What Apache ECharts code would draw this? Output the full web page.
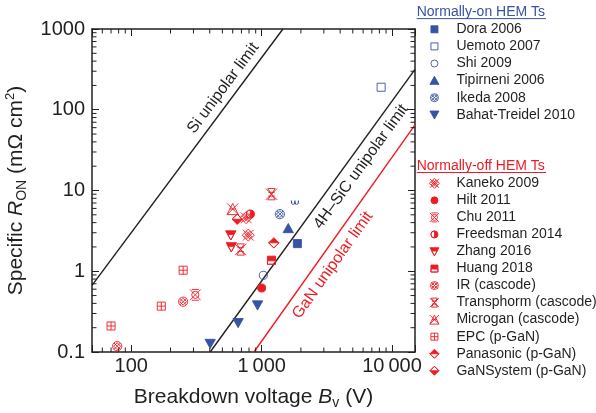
<!DOCTYPE html>
<html>
<head>
<meta charset="utf-8">
<script src="https://cdn.jsdelivr.net/npm/echarts@6/dist/echarts.min.js"></script>
<style>
  html, body { margin: 0; padding: 0; background: #fff; }
  #main { width: 596px; height: 413px; }
</style>
</head>
<body>
<div id="main"></div>
<script>
const FONT = '"Liberation Sans", Arial, Helvetica, sans-serif';
const RED = '#ed1c24';
const BLUE = '#3853a4';
const INK = '#231f20';

// axes
const xMin = 50, xMax = 15000;
const yMin = 0.1, yMax = 1000;
const xTickValues = [100, 1000, 10000];
const xTickLabels = ['100', '1\u2009000', '10\u2009000'];
const yTickValues = [0.1, 1, 10, 100, 1000];
const yTickLabels = ['0.1', '1', '10', '100', '1000'];
const xMinorTicks = [60, 70, 80, 90, 200, 300, 400, 500, 600, 700, 800, 900,
  2000, 3000, 4000, 5000, 6000, 7000, 8000, 9000];
const yMinorTicks = [0.2, 0.3, 0.4, 0.5, 0.6, 0.7, 0.8, 0.9, 2, 3, 4, 5, 6, 7, 8, 9,
  20, 30, 40, 50, 60, 70, 80, 90, 200, 300, 400, 500, 600, 700, 800, 900];

// unipolar limits [Bv, Ron]
const siLimit = [[50, 0.67], [1456, 1000]];
const sicLimit = [[403, 0.1], [15000, 316]];
const ganLimit = [[873, 0.1], [15000, 65]];

// normally-on HEMTs [Bv (V), Ron (mOhm cm2)]
const dora = [[1880, 2.2]];
const uemoto = [[8250, 190]];
const shi = [[1030, 0.89]];
const tipirneni = [[1600, 3.4]];
const ikeda = [[1380, 5.1]];
const ikedaPartial = [[1800, 7.1]];
const bahat = [[403, 0.127], [660, 0.23], [930, 0.38]];

// normally-off HEMTs
const kaneko = [[790, 2.8], [760, 4.6]];
const hilt = [[1000, 0.62]];
const chu = [[310, 0.51]];
const freedsman = [[820, 5.1]];
const zhang = [[580, 2.8], [585, 2.0]];
const huang = [[1190, 1.37]];
const ir = [[250, 0.42], [78, 0.118]];
const transphorm = [[1190, 9.0], [690, 1.86]];
const microgan = [[600, 5.9]];
const epc = [[250, 1.03], [170, 0.37], [70, 0.21]];
const panasonic = [[1240, 2.25]];
const gansystem = [[650, 4.4]];

// symbols, 20x20 box (the leading moves keep the box size)
const BOX = 'M0 0M20 20';
const SYM = {
  square: 'path://' + BOX + 'M3 3L17 3L17 17L3 17Z',
  openSquare: 'path://' + BOX + 'M3 3L17 3L17 17L3 17Z',
  circle: 'path://' + BOX + 'M3 10A7 7 0 1 1 17 10A7 7 0 1 1 3 10Z',
  triUp: 'path://' + BOX + 'M10 1.5L19 17.5L1 17.5Z',
  triDown: 'path://' + BOX + 'M1 2.5L19 2.5L10 18.5Z',
  hatchCircle: 'path://' + BOX + 'M2 10A8 8 0 1 1 18 10A8 8 0 1 1 2 10ZM4.3 4.3L15.7 15.7M15.7 4.3L4.3 15.7M10 4L16 10L10 16L4 10Z',
  omega: 'path://M0 0A5 5 0 0 0 10 0A5 5 0 0 0 20 0A5 5 0 0 1 10 0A5 5 0 0 1 0 0Z',
  kaneko: 'path://' + BOX + 'M10 0L20 10L10 20L0 10ZM3.3 6.7L13.3 16.7M6.7 3.3L16.7 13.3M13.3 3.3L3.3 13.3M16.7 6.7L6.7 16.7M1 1L19 19M19 1L1 19',
  chu: 'path://' + BOX + 'M1 1L19 19M19 1L1 19M4 10A6 6 0 1 1 16 10A6 6 0 1 1 4 10ZM4 1L16 1M4 19L16 19',
  transphorm: 'path://' + BOX + 'M1 1L19 19M19 1L1 19M4 1L16 1L4 19L16 19ZM5 7L15 7M5 13L15 13',
  microgan: 'path://' + BOX + 'M1 1L19 19M19 1L1 19M10 1L19 19L1 19ZM5 10L15 10',
  epc: 'path://' + BOX + 'M3 3L17 3L17 17L3 17ZM10 3L10 17M3 10L17 10',
  halfCircle: 'path://' + BOX + 'M10 3A7 7 0 0 1 10 17ZM10 3A7 7 0 0 0 10 17A7 7 0 0 1 10 3Z',
  zhang: 'path://' + BOX + 'M1 2.5L19 2.5L15.4 9L4.6 9ZM4.6 9L10 18.5L15.4 9L10 18.5Z',
  huang: 'path://' + BOX + 'M3 3L17 3L17 11L3 11ZM3 11L3 17L17 17L17 11L17 17L3 17Z',
  panasonic: 'path://' + BOX + 'M10 1L19 10L1 10ZM1 10L10 19L19 10L10 19Z',
  gansystem: 'path://' + BOX + 'M1 10L19 10L10 19ZM1 10L10 1L19 10L10 1Z'
};

const CLEAR = 'rgba(0,0,0,0)';

function styleOf(color, filled) {
  return { color: filled ? color : CLEAR, borderColor: color, borderWidth: 0.9, opacity: 1 };
}

function pts(name, data, symbol, color, filled, size) {
  return {
    name: name,
    type: 'scatter',
    data: data,
    symbol: symbol,
    symbolSize: size || 11.5,
    itemStyle: styleOf(color, filled),
    z: 5
  };
}

function limit(data, color) {
  return {
    type: 'line',
    data: data,
    showSymbol: false,
    symbol: 'none',
    lineStyle: { color: color, width: 1.4 },
    silent: true,
    z: 3
  };
}

function labelFor(values, labels) {
  return function (v) {
    for (let i = 0; i < values.length; i++) {
      if (Math.abs(Math.log10(v) - Math.log10(values[i])) < 1e-6) return labels[i];
    }
    return '';
  };
}

const chart = echarts.init(document.getElementById('main'));

const frameLine = { lineStyle: { color: INK, width: 1.5 } };
const majorTick = { inside: true, length: 7, lineStyle: { color: INK, width: 1 } };

const onSeries = [
  pts('Dora 2006', dora, SYM.square, BLUE, true),
  pts('Uemoto 2007', uemoto, SYM.openSquare, BLUE, false),
  pts('Shi 2009', shi, SYM.circle, BLUE, false),
  pts('Tipirneni 2006', tipirneni, SYM.triUp, BLUE, true),
  pts('Ikeda 2008', ikeda, SYM.hatchCircle, BLUE, false),
  pts('Bahat-Treidel 2010', bahat, SYM.triDown, BLUE, true)
];
const offSeries = [
  pts('Kaneko 2009', kaneko, SYM.kaneko, RED, false, 12),
  pts('Hilt 2011', hilt, SYM.circle, RED, true),
  pts('Chu 2011', chu, SYM.chu, RED, false, 12),
  pts('Freedsman 2014', freedsman, SYM.halfCircle, RED, true),
  pts('Zhang 2016', zhang, SYM.zhang, RED, true),
  pts('Huang 2018', huang, SYM.huang, RED, true),
  pts('IR (cascode)', ir, SYM.hatchCircle, RED, false),
  pts('Transphorm (cascode)', transphorm, SYM.transphorm, RED, false, 12.5),
  pts('Microgan (cascode)', microgan, SYM.microgan, RED, false, 12.5),
  pts('EPC (p-GaN)', epc, SYM.epc, RED, false),
  pts('Panasonic (p-GaN)', panasonic, SYM.panasonic, RED, true),
  pts('GaNSystem (p-GaN)', gansystem, SYM.gansystem, RED, true)
];

function legendOf(list, top, rowH) {
  return {
    orient: 'vertical',
    left: 429,
    top: top,
    padding: 0,
    itemGap: 0,
    itemWidth: 10,
    itemHeight: 10,
    selectedMode: false,
    data: list.map(s => ({ name: s.name, icon: s.symbol, itemStyle: s.itemStyle })),
    formatter: name => '{g|}' + name,
    textStyle: {
      fontFamily: FONT, fontSize: 14, color: INK, lineHeight: rowH,
      rich: { g: { width: 12, lineHeight: rowH } }
    }
  };
}

const option = {
  animation: false,
  backgroundColor: '#fff',
  grid: { left: 92, right: 181, top: 29, bottom: 61, outerBoundsMode: 'none', containLabel: false },
  legend: [legendOf(onSeries, 20.75, 17.1), legendOf(offSeries, 174.8, 17.04)],
  xAxis: [{
    type: 'log', logBase: 10, min: xMin, max: xMax, position: 'bottom',
    axisLine: frameLine, axisTick: majorTick, splitLine: { show: false },
    axisLabel: { formatter: labelFor(xTickValues, xTickLabels), fontFamily: FONT, fontSize: 20, color: INK, margin: 4 },
    name: 'Breakdown voltage {i|B}{sub|v} (V)',
    nameLocation: 'middle', nameGap: 32,
    nameTextStyle: {
      fontFamily: FONT, fontSize: 21, color: INK, lineHeight: 26,
      rich: {
        i: { fontFamily: FONT, fontSize: 21, fontStyle: 'italic', color: INK, lineHeight: 26 },
        sub: { fontFamily: FONT, fontSize: 14, color: INK, verticalAlign: 'bottom', lineHeight: 14 }
      }
    }
  }, {
    type: 'log', logBase: 10, min: xMin, max: xMax, position: 'top',
    axisLine: frameLine, axisTick: majorTick, axisLabel: { show: false }, splitLine: { show: false }
  }],
  yAxis: [{
    type: 'log', logBase: 10, min: yMin, max: yMax, position: 'left',
    axisLine: frameLine, axisTick: majorTick, splitLine: { show: false },
    axisLabel: { formatter: labelFor(yTickValues, yTickLabels), fontFamily: FONT, fontSize: 20, color: INK, margin: 7 },
    name: 'Specific {i|R}{sub|ON} (m\u03a9 cm{sup|2})',
    nameLocation: 'middle', nameGap: 59,
    nameTextStyle: {
      fontFamily: FONT, fontSize: 21, color: INK, lineHeight: 26,
      rich: {
        i: { fontFamily: FONT, fontSize: 21, fontStyle: 'italic', color: INK, lineHeight: 26 },
        sub: { fontFamily: FONT, fontSize: 14, color: INK, verticalAlign: 'bottom', lineHeight: 14 },
        sup: { fontFamily: FONT, fontSize: 13, color: INK, verticalAlign: 'top', lineHeight: 13 }
      }
    }
  }, {
    type: 'log', logBase: 10, min: yMin, max: yMax, position: 'right',
    axisLine: frameLine, axisTick: majorTick, axisLabel: { show: false }, splitLine: { show: false }
  }],
  series: [
    limit(siLimit, INK),
    limit(sicLimit, INK),
    limit(ganLimit, RED),
    {
      type: 'custom', silent: true, clip: false, z: 4,
      data: xMinorTicks.map(v => [v, yMin]),
      renderItem: function (params, api) {
        const b = api.coord([api.value(0), yMin]);
        const t = api.coord([api.value(0), yMax]);
        const st = { stroke: INK, lineWidth: 1 };
        return { type: 'group', children: [
          { type: 'line', shape: { x1: b[0], y1: b[1], x2: b[0], y2: b[1] - 4.5 }, style: st },
          { type: 'line', shape: { x1: t[0], y1: t[1], x2: t[0], y2: t[1] + 4.5 }, style: st }
        ] };
      }
    },
    {
      type: 'custom', silent: true, clip: false, z: 4,
      data: yMinorTicks.map(v => [xMin, v]),
      renderItem: function (params, api) {
        const l = api.coord([xMin, api.value(1)]);
        const r = api.coord([xMax, api.value(1)]);
        const st = { stroke: INK, lineWidth: 1 };
        return { type: 'group', children: [
          { type: 'line', shape: { x1: l[0], y1: l[1], x2: l[0] + 4.5, y2: l[1] }, style: st },
          { type: 'line', shape: { x1: r[0], y1: r[1], x2: r[0] - 4.5, y2: r[1] }, style: st }
        ] };
      }
    },
    Object.assign(pts('Ikeda 2008 partial', ikedaPartial, SYM.omega, BLUE, false), { symbolSize: [7, 4] })
  ].concat(onSeries, offSeries)
};

chart.setOption(option);

// line labels, placed in data space and turned along their line
function lineLabel(text, line, anchor, color) {
  const p1 = chart.convertToPixel({ xAxisIndex: 0, yAxisIndex: 0 }, line[0]);
  const p2 = chart.convertToPixel({ xAxisIndex: 0, yAxisIndex: 0 }, line[1]);
  const c = chart.convertToPixel({ xAxisIndex: 0, yAxisIndex: 0 }, anchor);
  return {
    type: 'text', x: c[0], y: c[1], z: 10,
    rotation: Math.atan2(p1[1] - p2[1], p2[0] - p1[0]),
    style: {
      text: text, fill: color, font: '16px ' + FONT,
      align: 'center', verticalAlign: 'middle', textAlign: 'center', textVerticalAlign: 'middle'
    }
  };
}

function legendTitle(text, y, color) {
  return [
    { type: 'text', x: 416.7, y: y, z: 10,
      style: { text: text, fill: color, font: '14px ' + FONT, align: 'left', verticalAlign: 'middle',
        textAlign: 'left', textVerticalAlign: 'middle' } },
    { type: 'line', z: 10, shape: { x1: 416.7, y1: y + 6, x2: 546, y2: y + 6 }, style: { stroke: color, lineWidth: 1 } }
  ];
}

chart.setOption({
  graphic: [
    lineLabel('Si unipolar limit', siLimit, [507, 185], INK),
    lineLabel('4H\u2013SiC unipolar limit', sicLimit, [5780, 19.7], INK),
    lineLabel('GaN unipolar limit', ganLimit, [3510, 1.19], RED)
  ].concat(legendTitle('Normally-on HEM Ts', 12.6, BLUE), legendTitle('Normally-off HEM Ts', 166.5, RED))
});
</script>
</body>
</html>
